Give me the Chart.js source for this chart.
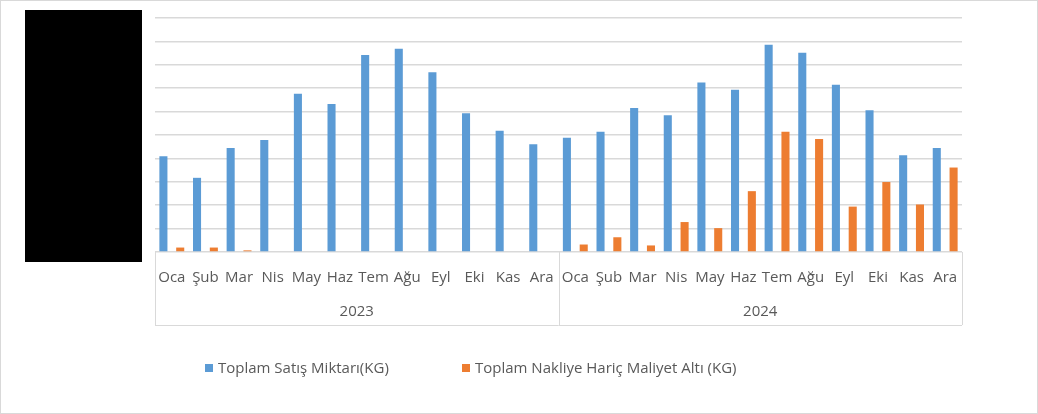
<!DOCTYPE html>
<html><head><meta charset="utf-8">
<script src="https://cdn.jsdelivr.net/npm/chart.js@4/dist/chart.umd.min.js"></script>
<style>html,body{margin:0;padding:0;background:#fff}#w{width:1038px;height:414px;position:relative}</style>
</head><body><div id="w"><canvas id="c" width="1038" height="414"></canvas></div>
<script>
const months = ["Oca","Şub","Mar","Nis","May","Haz","Tem","Ağu","Eyl","Eki","Kas","Ara"];
const years = ["2023","2024"];
const salesKg = [4.09,3.17,4.44,4.79,6.76,6.32,8.42,8.69,7.68,5.93,5.18,4.61,
                 4.88,5.14,6.15,5.84,7.24,6.93,8.86,8.51,7.15,6.06,4.13,4.44];
const costKg = [0.19,0.19,0.07,0,0,0,0,0,0,0,0,0,
                0.32,0.63,0.28,1.28,1.02,2.6,5.14,4.83,1.94,2.99,2.03,3.61];
const seriesNames = ["Toplam Satış Miktarı(KG)","Toplam Nakliye Hariç Maliyet Altı (KG)"];
const colors = ["#5B9BD5","#ED7D31"];
const labels = years.flatMap(y => months.map(m => m + " " + y));
const FONT = '15px "Open Sans", "Liberation Sans", sans-serif';
const deco = {
  id:'deco',
  afterDraw(ch){
    const c = ch.ctx, x = ch.scales.x, a = ch.chartArea;
    c.save();
    c.fillStyle='#000'; c.fillRect(25,10,117,252);
    c.strokeStyle='#d9d9d9'; c.lineWidth=1;
    c.strokeRect(0.5,0.5,1037,413);
    c.fillStyle='#595959'; c.font=FONT; c.textAlign='center'; c.textBaseline='middle';
    labels.forEach((l,i)=>{ c.fillText(months[i%12], x.getPixelForValue(i), 278); });
    const step = (a.right-a.left)/labels.length;
    c.beginPath();
    for (let g=0; g<=years.length; g++){
      const px = Math.round(a.left + g*12*step)+0.5;
      c.moveTo(px,a.bottom); c.lineTo(px,325);
    }
    c.moveTo(a.left,325.5); c.lineTo(a.right,325.5);
    c.stroke();
    years.forEach((y,g)=>{ c.fillText(y, a.left + (g*12+6)*step, 312); });
    // legend
    c.textAlign='left';
    const items=[[205,seriesNames[0],colors[0]],[462,seriesNames[1],colors[1]]];
    items.forEach(([lx,t,col])=>{ c.fillStyle=col; c.fillRect(lx,364,8,8); c.fillStyle='#595959'; c.fillText(t,lx+13,369); });
    c.restore();
  }
};
new Chart(document.getElementById('c'),{
  type:'bar',
  data:{labels, datasets:[
    {label:seriesNames[0], data:salesKg, backgroundColor:colors[0], barPercentage:0.48, categoryPercentage:1},
    {label:seriesNames[1], data:costKg, backgroundColor:colors[1], barPercentage:0.48, categoryPercentage:1}
  ]},
  options:{
    responsive:false, animation:false, devicePixelRatio:1,
    layout:{padding:{left:155,right:76,top:18,bottom:162}},
    plugins:{legend:{display:false},tooltip:{enabled:false}},
    scales:{
      x:{display:false},
      y:{min:0,max:10,ticks:{display:false,stepSize:1},border:{display:false},
         grid:{color:'#d9d9d9',lineWidth:1.5,drawTicks:false},
         afterFit(s){s.width=0;}}
    }
  },
  plugins:[deco]
});
</script></body></html>
